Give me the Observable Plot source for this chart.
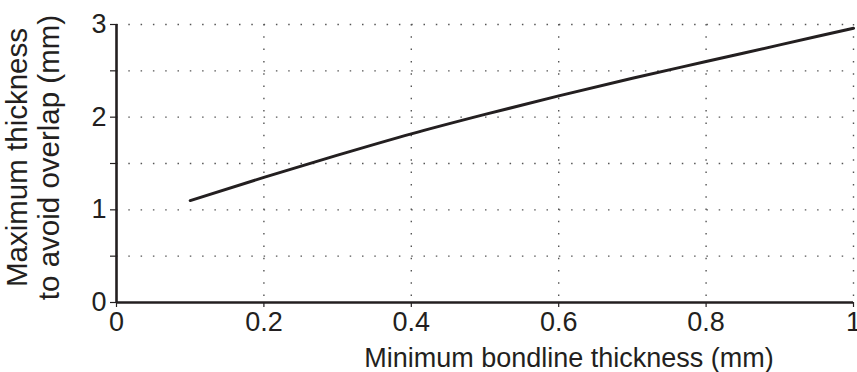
<!DOCTYPE html>
<html>
<head>
<meta charset="utf-8">
<script src="https://cdn.jsdelivr.net/npm/d3@7"></script>
<script src="https://cdn.jsdelivr.net/npm/@observablehq/plot@0.6"></script>
<style>
  html, body { margin: 0; padding: 0; background: #fff; }
  #chart svg { display: block; }
</style>
</head>
<body>
<div id="chart"></div>
<script>
const minBondline = [0.1, 0.2, 0.3, 0.4, 0.5, 0.6, 0.7, 0.8, 0.9, 1.0];
const maxThickness = [1.10, 1.35, 1.59, 1.82, 2.03, 2.23, 2.42, 2.60, 2.78, 2.96];
const xTicks = [0, 0.2, 0.4, 0.6, 0.8, 1];
const xTickLabels = ["0", "0.2", "0.4", "0.6", "0.8", "1"];
const yTicks = [0, 0.5, 1, 1.5, 2, 2.5, 3];
const yTickLabels = ["0", "", "1", "", "2", "", "3"];
const xGrid = [0.2, 0.4, 0.6, 0.8, 1];
const yGrid = [0.5, 1, 1.5, 2, 2.5, 3];
const xLabel = "Minimum bondline thickness (mm)";
const yLabel = "Maximum thickness\nto avoid overlap (mm)";

const data = minBondline.map((x, i) => ({x, y: maxThickness[i]}));
const font = "Liberation Sans, Arial, Helvetica, sans-serif";

const chart = Plot.plot({
  width: 857,
  height: 372,
  marginLeft: 116,
  marginRight: 4,
  marginTop: 24,
  marginBottom: 70,
  style: {fontFamily: font, fontSize: "27px", color: "#231f20", background: "#fff"},
  x: {domain: [0, 1]},
  y: {domain: [0, 3]},
  marks: [
    Plot.ruleY(yGrid, {stroke: "#555", strokeWidth: 1.4, strokeDasharray: "1.5,10.8"}),
    Plot.ruleX(xGrid, {stroke: "#555", strokeWidth: 1.4, strokeDasharray: "1.5,10.8"}),
    Plot.axisX({ticks: xTicks, tickFormat: (d, i) => xTickLabels[i], tickSize: 5, tickPadding: 4, fontSize: 27, label: null, stroke: "#231f20", strokeWidth: 1.2}),
    Plot.axisY({ticks: yTicks, tickFormat: (d, i) => yTickLabels[i], tickSize: 6, tickPadding: 4, fontSize: 27, label: null, stroke: "#231f20", strokeWidth: 1.2}),
    Plot.ruleX([0], {stroke: "#231f20", strokeWidth: 2.6}),
    Plot.ruleY([0], {stroke: "#231f20", strokeWidth: 2.6}),
    Plot.line(data, {x: "x", y: "y", stroke: "#231f20", strokeWidth: 3, curve: "monotone-x"}),
    Plot.text([xLabel], {text: d => d, frameAnchor: "bottom", dx: 84, dy: 64, lineAnchor: "bottom", fontSize: 27, fill: "#231f20"}),
    Plot.text([yLabel], {text: d => d, frameAnchor: "left", rotate: -90, dx: -84, dy: -6, lineHeight: 1.08, lineAnchor: "middle", textAnchor: "middle", fontSize: 29.5, fill: "#231f20"})
  ]
});
document.getElementById("chart").appendChild(chart);
</script>
</body>
</html>
